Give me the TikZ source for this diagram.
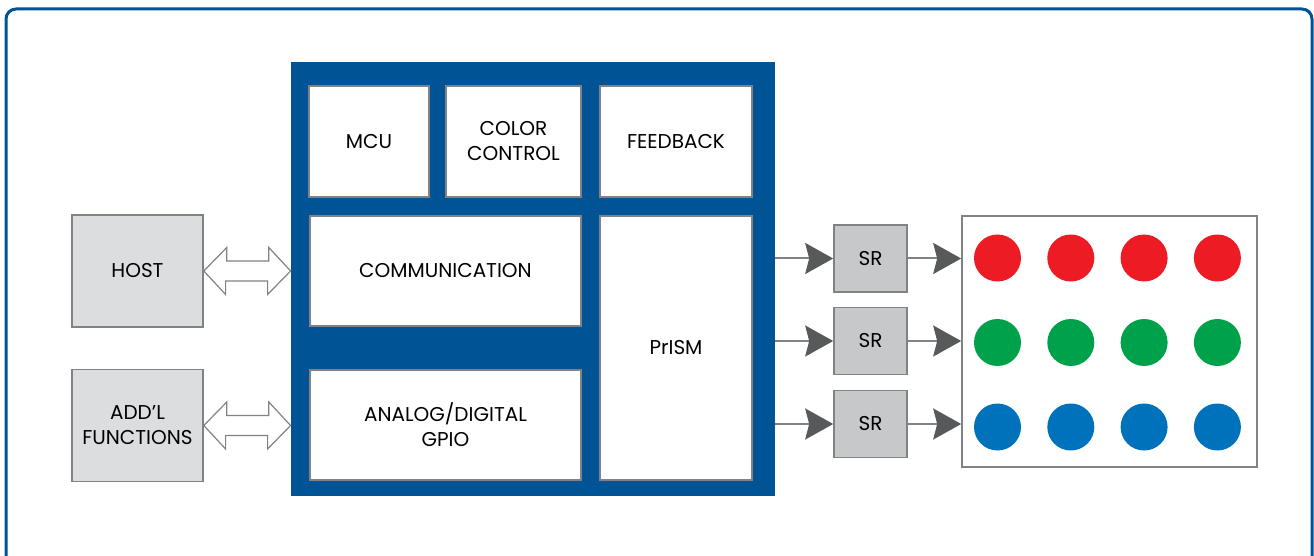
\documentclass[tikz,border=0pt]{standalone}
\usepackage{fontspec}
\setmainfont{Poppins}
\usepackage{xcolor}
\usetikzlibrary{arrows.meta, positioning, calc}

\definecolor{chipblue}{RGB}{0,84,150}
\definecolor{edgegray}{RGB}{128,130,133}
\definecolor{hostgray}{RGB}{220,221,223}
\definecolor{srgray}{RGB}{199,200,202}
\definecolor{tipgray}{RGB}{88,89,91}
\definecolor{ledred}{RGB}{237,28,36}
\definecolor{ledgreen}{RGB}{0,161,75}
\definecolor{ledblue}{RGB}{0,114,188}

\begin{document}
\begin{tikzpicture}[x=0.5pt, y=-0.5pt,
    font=\fontsize{10}{12.5}\selectfont,
    block/.style={draw=edgegray, line width=0.8pt, fill=white, align=center, inner sep=0pt},
    ext/.style={block, fill=hostgray, minimum width=65.5pt, minimum height=56pt},
    sr/.style={block, fill=srgray, minimum width=36.5pt, minimum height=33.5pt},
    flow/.style={draw=edgegray, line width=1pt,
      -{Stealth[length=14pt, width=15.5pt, inset=2pt, color=tipgray]}},
    link/.style={draw=edgegray, fill=white, line width=0.6pt, line join=miter},
    led/.style={circle, minimum size=23.5pt, inner sep=0pt}]

  \useasboundingbox (0,0) rectangle (1314,556);

  % Outer frame
  \draw[chipblue, line width=1.5pt, rounded corners=5pt] (6,9) rectangle (1312,575);

  % Controller chip
  \node[fill=chipblue, minimum width=242pt, minimum height=217pt, inner sep=0pt]
    (chip) at (533,279) {};

  % Blocks inside the chip
  \node[block, minimum width=60pt, minimum height=55.5pt] (mcu) at (369,141.5) {MCU};
  \node[block, minimum width=67.5pt, minimum height=55.5pt] (color) at (513.5,141.5) {COLOR\\CONTROL};
  \node[block, minimum width=76pt, minimum height=55.5pt] (feedback) at (676,141.5) {FEEDBACK};
  \node[block, minimum width=135.5pt, minimum height=55pt] (comm) at (445.5,271) {COMMUNICATION};
  \node[block, minimum width=135.5pt, minimum height=55pt] (gpio) at (445.5,425) {ANALOG/DIGITAL\\GPIO};
  \node[block, minimum width=76pt, minimum height=132pt] (prism) at (676,348) {PrISM};

  % Outside blocks
  \node[ext] (host) at (137.5,271) {HOST};
  \node[ext] (addl) at (137.5,425.5) {ADD'L\\FUNCTIONS};

  % Bus arrows (host side tip -> chip side tip)
  \foreach \e in {host, addl} {
    \draw[link] (\e.east) -- ++(23,-23.5) -- ++(0,13.5) -- ++(42,0) -- ++(0,-13.5)
      -- (chip.west |- \e.east) -- ++(-23,23.5) -- ++(0,-13.5) -- ++(-42,0)
      -- ++(0,13.5) -- cycle;
  }

  % Shift registers
  \node[sr] (sr1) at (870.5,258.5) {SR};
  \node[sr] (sr2) at (870.5,341) {SR};
  \node[sr] (sr3) at (870.5,424) {SR};

  % LED panel
  \node[draw=edgegray, line width=0.8pt, minimum width=147.5pt, minimum height=125.5pt,
    inner sep=0pt] (panel) at (1109.5,341.5) {};
  \foreach \c [count=\row] in {ledred, ledgreen, ledblue} {
    \foreach \col in {1,...,4} {
      \node[led, fill=\c] (led-\row-\col) at ({997.5+73.3*(\col-1)}, {258+84.5*(\row-1)}) {};
    }
  }

  % Drive lines
  \foreach \s in {sr1, sr2, sr3} {
    \draw[flow] (chip.east |- \s) -- (\s.west);
    \draw[flow] (\s.east) -- (panel.west |- \s);
  }
\end{tikzpicture}
\end{document}
